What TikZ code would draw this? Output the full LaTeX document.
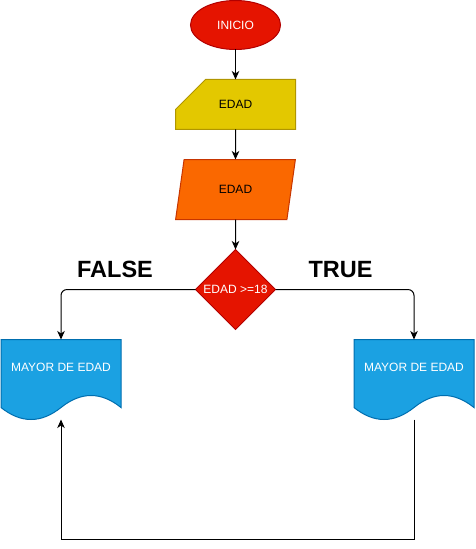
\documentclass[tikz,border=0pt]{standalone}
\usepackage{fontspec}
\setmainfont{Liberation Sans}
\usetikzlibrary{positioning,arrows.meta,shapes.geometric,backgrounds}
\definecolor{StartRed}{HTML}{E51400}
\definecolor{StartRedLine}{HTML}{B20000}
\definecolor{CardYellow}{HTML}{E3C800}
\definecolor{CardYellowLine}{HTML}{B09500}
\definecolor{InOrange}{HTML}{FA6800}
\definecolor{InOrangeLine}{HTML}{C73500}
\definecolor{DocBlue}{HTML}{1BA1E2}
\definecolor{DocBlueLine}{HTML}{006EAF}

\begin{document}
\begin{tikzpicture}[x=1pt,y=1pt,
      >={Stealth[length=8.5pt,width=7.5pt,inset=2.5pt]},
      every node/.style={font=\fontsize{12}{14}\selectfont,inner sep=0pt,outer sep=0pt},
      start/.style={ellipse,draw=StartRedLine,fill=StartRed,text=white,
                    minimum width=90pt,minimum height=49pt,line width=1pt},
      card/.style={rectangle,minimum width=120pt,minimum height=50pt},
      inout/.style={trapezium,trapezium left angle=71.57,trapezium right angle=108.43,
                    trapezium stretches,draw=InOrangeLine,fill=InOrange,
                    minimum width=120pt,minimum height=60pt,line width=1pt},
      decision/.style={diamond,aspect=1,draw=StartRedLine,fill=StartRed,text=white,
                       minimum width=80pt,minimum height=80pt,line width=1pt},
      doc/.style={rectangle,text=white,minimum width=120pt,minimum height=56pt},
      arrow/.style={->,line width=1pt},
      branch/.style={font=\fontsize{23.5}{27}\selectfont\bfseries}]
  \useasboundingbox (0,0) rectangle (475,549);
  \node[start] (inicio) at (235.5,524) {INICIO};
  \node[card,below=30pt of inicio] (edad1) {EDAD};
  \node[inout,below=30pt of edad1] (edad2) {EDAD};
  \node[decision,below=30pt of edad2] (cond) {EDAD >=18};
  \node[doc,below left=50pt and 74.5pt of cond.west] (menor) {MAYOR DE EDAD};
  \node[doc,below right=50pt and 78.5pt of cond.east] (mayor) {MAYOR DE EDAD};
  % card and document outlines behind the texts
  \begin{scope}[on background layer]
    \draw[line width=1pt,draw=CardYellowLine,fill=CardYellow]
      ([yshift=-30pt]edad1.north west) -- ([xshift=30pt]edad1.north west)
      -- (edad1.north east) -- (edad1.south east) -- (edad1.south west) -- cycle;
    \foreach \d in {menor,mayor}
      \draw[line width=1pt,draw=DocBlueLine,fill=DocBlue]
        (\d.north west) -- (\d.north east) -- ([yshift=-12pt]\d.south east)
        .. controls +(-20pt,16pt) and +(20pt,16pt) .. ++(-60pt,0)
        .. controls +(-20pt,-16pt) and +(20pt,-16pt) .. ++(-60pt,0) -- cycle;
  \end{scope}
  \foreach \a/\b in {inicio/edad1,edad1/edad2,edad2/cond}
    \draw[arrow] (\a) -- (\b);
  \draw[arrow,rounded corners=6pt] (cond.west) -| (menor.north);
  \draw[arrow,rounded corners=6pt] (cond.east) -| (mayor.north);
  \coordinate (menorbot) at ([yshift=-24pt]menor.south);
  \coordinate (mayorbot) at ([yshift=-24pt]mayor.south);
  \draw[arrow] (mayorbot) -- ++(0,-120pt) -| (menorbot);
  \node[branch] (lfalse) at (115,279.5) {FALSE};
  \node[branch] (ltrue) at (340.5,279.5) {TRUE};
\end{tikzpicture}
\end{document}
